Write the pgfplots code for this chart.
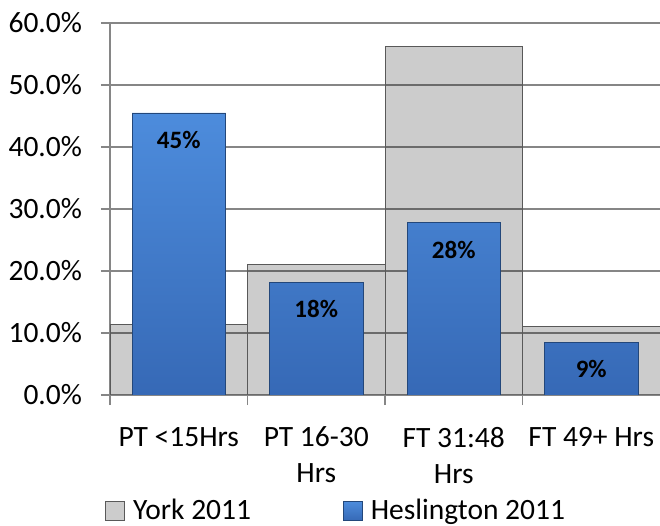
\documentclass[border=0pt]{standalone}
\usepackage{pgfplots}
\pgfplotsset{compat=1.18}
\usepackage{fontspec}
\setmainfont{Carlito}
\definecolor{gridc}{HTML}{868686}
\definecolor{bluetop}{HTML}{4D8CDC}
\definecolor{bluebot}{HTML}{3669B6}
\definecolor{blueedge}{HTML}{23477A}
\begin{document}
\fontsize{29.5bp}{36bp}\selectfont
\begin{tikzpicture}
\useasboundingbox (0,0) rectangle (660bp,526bp);
\begin{axis}[
 at={(110bp,131bp)}, anchor=south west,
 scale only axis, width=550bp, height=372bp,
 xmin=-0.5, xmax=3.5, ymin=0, ymax=60,
 ybar, bar shift=0pt,
 axis x line*=bottom, axis y line*=left,
 axis line style={gridc, line width=1.2bp, -},
 ymajorgrids, grid style={gridc, line width=1.2bp},
 ytick={0,10,...,60},
 yticklabels={0.0\%,10.0\%,20.0\%,30.0\%,40.0\%,50.0\%,60.0\%},
 ytick style={gridc, line width=1.2bp},
 tick align=outside, major tick length=9bp, minor tick length=10bp,
 xtick={0,1,2,3},
 xticklabels={PT <15Hrs,{PT 16-30\\Hrs},{FT 31:48\\Hrs},FT 49+ Hrs},
 major x tick style={draw=none},
 minor xtick={-0.5,0.5,1.5,2.5},
 minor x tick style={gridc, line width=1.2bp},
 tick label style={font=\fontsize{29.5bp}{36bp}\selectfont},
 xticklabel style={align=center, yshift=-13bp},
 yticklabel style={xshift=-9bp},
 legend style={at={(axis description cs:0,0)}, anchor=west, xshift=-8bp, yshift=-116bp,
   draw=none, fill=none, legend columns=2,
   font=\fontsize{29.5bp}{36bp}\selectfont,
   /tikz/every odd column/.append style={column sep=6bp},
   /tikz/every even column/.append style={column sep=90bp}},
 legend image code/.code={\draw[#1] (0bp,-9.5bp) rectangle (19bp,9.5bp);},
]
\addplot[bar width=1, fill=black, fill opacity=0.2, draw=black!65, line width=1bp]
 coordinates {(0,11.45) (1,21.0) (2,56.2) (3,11.0)};
\addlegendentry{York 2011}
\addplot[bar width=0.68, top color=bluetop, bottom color=bluebot, draw=blueedge, line width=0.8bp,
 nodes near coords, point meta=explicit symbolic,
 every node near coord/.append style={anchor=center, yshift=-27bp, text=black,
   font=\bfseries\fontsize{25bp}{25bp}\selectfont}]
 coordinates {(0,45.5) [45\%] (1,18.2) [18\%] (2,27.8) [28\%] (3,8.5) [9\%]};
\addlegendentry{Heslington 2011}
\end{axis}
\end{tikzpicture}
\end{document}
